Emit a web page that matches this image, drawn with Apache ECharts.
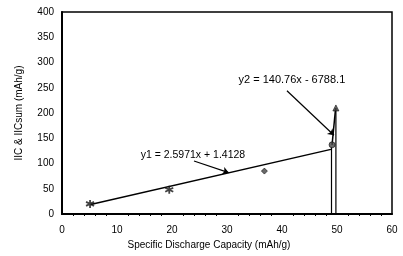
<!DOCTYPE html>
<html>
<head>
<meta charset="utf-8">
<script src="https://cdn.jsdelivr.net/npm/echarts@6/dist/echarts.min.js"></script>
</head>
<body style="margin:0">
<div id="chart" style="width:403px;height:256px;"></div>
<script>
// measured points (x = specific discharge capacity, y = IIC / IICsum)
var ptX = [5.1, 19.5, 36.8, 49.1, 49.8];
var ptY = [20, 48, 85, 137, 210];
var ptShape = ['star', 'star', 'diamond', 'circle', 'triangle'];

// trend line 1 end points
var trend1X = [5.2, 48.9];
var trend1Y = [19, 128];
// trend line 2 end points
var trend2X = [49.1, 49.75];
var trend2Y = [137, 210];
// drop lines
var dropX = [49.0, 49.8];
var dropY = [132, 210];

var eq1 = 'y1 = 2.5971x + 1.4128';
var eq2 = 'y2 = 140.76x - 6788.1';
// label anchors and arrows, in data units
var eq1At = [23.8, 117], eq1Arrow = [[24, 105], [30.3, 82]];
var eq2At = [41.8, 265], eq2Arrow = [[40.9, 244], [49.45, 156]];

var asterisk = 'path://M0,-5L0,5M-4.3,-2.5L4.3,2.5M-4.3,2.5L4.3,-2.5';
var shapes = {star: asterisk, diamond: 'diamond', circle: 'circle', triangle: 'triangle'};

function pairs(xs, ys) {
  var out = [];
  for (var i = 0; i < xs.length; i++) out.push([xs[i], ys[i]]);
  return out;
}

var font = 'Liberation Sans';
var series = [];

series.push({
  type: 'line', data: pairs(trend1X, trend1Y), showSymbol: false,
  lineStyle: {color: '#000', width: 1.5}, z: 3,
  markPoint: {
    symbol: 'circle', symbolSize: 0,
    label: {show: true, color: '#000', fontFamily: font, fontSize: 10.5, formatter: eq1},
    data: [{coord: eq1At}]
  },
  markLine: {
    silent: true, symbol: ['none', 'arrow'], symbolSize: 6,
    lineStyle: {color: '#000', width: 1.2, type: 'solid'}, label: {show: false},
    data: [[{coord: eq1Arrow[0]}, {coord: eq1Arrow[1]}]]
  }
});
series.push({
  type: 'line', data: pairs(trend2X, trend2Y), showSymbol: false,
  lineStyle: {color: '#000', width: 1.5}, z: 3,
  markPoint: {
    symbol: 'circle', symbolSize: 0,
    label: {show: true, color: '#000', fontFamily: font, fontSize: 11, formatter: eq2},
    data: [{coord: eq2At}]
  },
  markLine: {
    silent: true, symbol: ['none', 'arrow'], symbolSize: 6,
    lineStyle: {color: '#000', width: 1.2, type: 'solid'}, label: {show: false},
    data: [[{coord: eq2Arrow[0]}, {coord: eq2Arrow[1]}]]
  }
});
for (var i = 0; i < dropX.length; i++) {
  series.push({
    type: 'line', data: [[dropX[i], 0], [dropX[i], dropY[i]]], showSymbol: false,
    lineStyle: {color: '#000', width: 1.2}, z: 2
  });
}
series.push({
  type: 'scatter', z: 5,
  data: ptX.map(function (x, i) {
    return {
      value: [x, ptY[i]],
      symbol: shapes[ptShape[i]],
      symbolSize: ptShape[i] == 'star' ? 8 : 6,
      itemStyle: ptShape[i] == 'star'
        ? {color: '#111', borderColor: '#111', borderWidth: 1.8}
        : {color: '#444', borderColor: '#111', borderWidth: 0.8}
    };
  })
});

var chart = echarts.init(document.getElementById('chart'));
chart.setOption({
  animation: false,
  backgroundColor: '#fff',
  grid: {left: 62, right: 11, top: 12, bottom: 42, show: true, borderColor: '#000', borderWidth: 1.5},
  xAxis: {
    type: 'value', min: 0, max: 60, interval: 10,
    name: 'Specific Discharge Capacity (mAh/g)', nameLocation: 'middle', nameGap: 26,
    nameTextStyle: {color: '#000', fontFamily: font, fontSize: 10, padding: [0, 36, 0, 0]},
    axisLine: {lineStyle: {color: '#000', width: 2}},
    axisTick: {show: false},
    minorTick: {show: true, splitNumber: 5, length: 2, lineStyle: {color: '#000'}},
    axisLabel: {color: '#000', fontFamily: font, fontSize: 10, margin: 11},
    splitLine: {show: false}
  },
  yAxis: {
    type: 'value', min: 0, max: 400, interval: 50,
    name: 'IIC & IICsum (mAh/g)', nameLocation: 'middle', nameGap: 38,
    nameTextStyle: {color: '#000', fontFamily: font, fontSize: 10},
    axisLine: {show: true, lineStyle: {color: '#000', width: 2}},
    axisTick: {show: false},
    axisLabel: {color: '#000', fontFamily: font, fontSize: 10, margin: 8},
    splitLine: {show: false}
  },
  series: series
});
</script>
</body>
</html>
